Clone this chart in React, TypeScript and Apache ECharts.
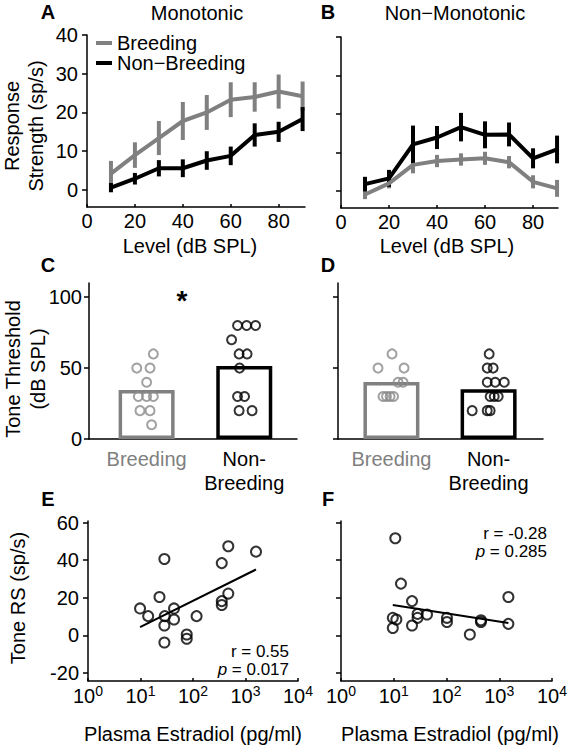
import React, { useEffect, useRef } from 'react';
import * as echarts from 'echarts';

// ---------- data ----------
const levels = [10, 20, 30, 40, 50, 60, 70, 80, 90];
const monoBreedingMean = [4.2, 9, 13.4, 17.8, 20, 23.3, 24, 25.4, 24.2];
const monoBreedingSem = [3.3, 3.3, 4.4, 4.9, 4.5, 4.5, 3.8, 4.4, 3.8];
const monoNonBreedingMean = [0.6, 2.9, 5.6, 5.6, 7.6, 8.8, 14.2, 15, 18.3];
const monoNonBreedingSem = [1.2, 1.5, 2.1, 2.3, 2.4, 2.4, 3, 2.6, 3.1];
const nonMonoBreedingMean = [-0.9, 2, 6.8, 7.8, 8.2, 8.5, 7.5, 2.4, 0.7];
const nonMonoBreedingSem = [1.2, 1.3, 2.2, 1.6, 1.6, 1.7, 1.6, 1.7, 2.2];
const nonMonoNonBreedingMean = [1.8, 3.3, 12.1, 13.9, 16.6, 14.6, 14.7, 8.5, 10.8];
const nonMonoNonBreedingSem = [1.9, 2.2, 4.9, 3, 3.7, 3.5, 3.1, 2.6, 3.6];

const groups = ['Breeding', 'Non-\nBreeding'];
const monoThresholdMean = [34.5, 51.5];
const monoBreedingThr = [60, 50, 50, 40, 30, 30, 30, 20, 20, 10];
const monoBreedingJitter = [0.069, -0.101, 0.035, 0, -0.085, 0, 0.069, -0.068, 0.035, 0.051];
const monoNonBreedingThr = [80, 80, 80, 70, 60, 60, 50, 30, 30, 20, 20];
const monoNonBreedingJitter = [-0.069, 0.024, 0.116, -0.13, -0.053, 0.029, -0.048, -0.069, 0.003, -0.053, 0.08];
const nonMonoThresholdMean = [40.2, 35.1];
const nonMonoBreedingThr = [60, 50, 50, 40, 40, 30, 30, 30, 30];
const nonMonoBreedingJitter = [0.006, -0.138, 0.13, 0.068, 0.12, -0.087, -0.051, -0.014, 0.022];
const nonMonoNonBreedingThr = [60, 50, 50, 40, 40, 40, 30, 30, 30, 20, 20, 20];
const nonMonoNonBreedingJitter = [0.006, -0.014, 0.047, -0.014, 0.068, 0.161, 0.016, 0.058, 0.099, -0.169, -0.014, 0.016];

const estradiolE = [9.8, 14, 23, 28.5, 29, 28.5, 28.5, 43.5, 43.5, 76, 76, 117, 353, 353, 353, 470, 470, 1585];
const toneRsE = [14.3, 10.2, 20.4, 40.6, 10.2, 5.2, -3.8, 14.3, 8.4, 0.4, -1.8, 10.2, 38.4, 18.2, 16.1, 47.4, 22.2, 44.5];
const fitXE = [9.8, 1585];
const fitYE = [4.3, 35.0];
const estradiolF = [10.7, 13.7, 22.2, 9.6, 11.2, 9.6, 22.2, 28.3, 28.3, 42.7, 102, 102, 277, 450, 450, 1490, 1490];
const toneRsF = [51.6, 27.5, 18.2, 9.3, 8.4, 3.9, 5.2, 11.4, 9.3, 11.1, 9.3, 7.1, 0.4, 8.0, 7.1, 20.4, 6.1];
const fitXF = [9.6, 1490];
const fitYF = [16.1, 6.6];
const statsR = [0.55, -0.28];
const statsP = [0.017, 0.285];

const levelTicks = [0, 20, 40, 60, 80];
const rsTicks = [0, 10, 20, 30, 40];
const thrTicks = [0, 50, 100];
const toneTicks = [-20, 0, 20, 40, 60];

// ---------- style ----------
const FONT = "'Liberation Sans', Arial, Helvetica, sans-serif";
const GRAY = '#808080';
const DOT_GRAY = '#8a8a8a';
const BLACK = '#000000';
const AXIS_LINE = { show: true, onZero: false, lineStyle: { color: BLACK, width: 1.5 } };
const LABEL = { fontSize: 20, fontFamily: FONT, color: BLACK };

function errData(mean: number[], sem: number[]) {
  return levels.map((x, i) => [x, mean[i] - sem[i], mean[i] + sem[i]]);
}
function lineData(mean: number[]) {
  return levels.map((x, i) => [x, mean[i]]);
}
function errRender(color: string) {
  return (params: any, api: any) => {
    const x = api.value(0);
    const a = api.coord([x, api.value(1)]);
    const b = api.coord([x, api.value(2)]);
    return {
      type: 'line',
      shape: { x1: a[0], y1: a[1], x2: b[0], y2: b[1] },
      style: { stroke: color, lineWidth: 4 },
    };
  };
}

function levelXAxis(gridIndex: number, max: number) {
  return {
    type: 'value', gridIndex, min: 0, max,
    axisLine: AXIS_LINE,
    axisTick: { show: true, inside: true, length: 3, customValues: levelTicks, lineStyle: { color: BLACK, width: 1.5 } },
    axisLabel: { ...LABEL, margin: 4, customValues: levelTicks },
    splitLine: { show: false },
  };
}
function valueYAxis(gridIndex: number, min: number, max: number, ticks: number[], showLabel: boolean, margin: number) {
  return {
    type: 'value', gridIndex, min, max,
    axisLine: AXIS_LINE,
    axisTick: { show: true, inside: false, length: 5, customValues: ticks, lineStyle: { color: BLACK, width: 1.5 } },
    axisLabel: { ...LABEL, show: showLabel, margin, customValues: ticks },
    splitLine: { show: false },
  };
}
function groupXAxis(gridIndex: number, min: number, max: number) {
  return {
    type: 'value', gridIndex, min, max,
    axisLine: AXIS_LINE,
    axisTick: { show: false },
    axisLabel: {
      ...LABEL, margin: 8, lineHeight: 24, customValues: [1, 2],
      formatter: (v: number) => {
        const name = groups[Math.round(v) - 1] || '';
        return name.split('\n').map((s) => (Math.round(v) === 1 ? `{g|${s}}` : `{k|${s}}`)).join('\n');
      },
      rich: {
        g: { fontSize: 20, fontFamily: FONT, color: GRAY, lineHeight: 24 },
        k: { fontSize: 20, fontFamily: FONT, color: BLACK, lineHeight: 24 },
      },
    },
    splitLine: { show: false },
  };
}
function logXAxis(gridIndex: number) {
  return {
    type: 'log', logBase: 10, gridIndex, min: 1, max: 10000,
    axisLine: AXIS_LINE,
    axisTick: { show: true, inside: true, length: 3, interval: 1, lineStyle: { color: BLACK, width: 1.5 } },
    axisLabel: {
      ...LABEL, margin: 3, interval: 1,
      formatter: (v: number) => `{b|10}{s|${Math.round(Math.log10(v))}}`,
      rich: {
        b: { fontSize: 20, fontFamily: FONT, color: BLACK, lineHeight: 22, verticalAlign: 'bottom' },
        s: { fontSize: 14, fontFamily: FONT, color: BLACK, lineHeight: 14, verticalAlign: 'top' },
      },
    },
    splitLine: { show: false },
  };
}

function dots(xi: number, base: number, values: number[], jitter: number[], color: string, name: string) {
  return {
    type: 'scatter', name, xAxisIndex: xi, yAxisIndex: xi,
    symbol: 'circle', symbolSize: 9,
    itemStyle: { color: 'rgba(255,255,255,0)', borderColor: color, borderWidth: 2 },
    data: values.map((v, i) => [base + jitter[i], v]),
    z: 5,
  };
}

function text(x: number, y: number, t: string, extra: any = {}) {
  return {
    type: 'text', x, y,
    style: { text: t, fontSize: 20, fontFamily: FONT, fill: BLACK, align: 'center', verticalAlign: 'middle', ...extra },
  };
}
function vtext(x: number, y: number, t: string) {
  return { ...text(x, y, t), rotation: Math.PI / 2 };
}
function statText(x: number, yR: number, yP: number, idx: number) {
  return [
    text(x, yR, `r = ${statsR[idx].toFixed(2)}`, { align: 'right', fontSize: 17 }),
    {
      type: 'text', x, y: yP,
      style: {
        text: `{i|p} = ${statsP[idx].toFixed(3)}`, fontSize: 17, fontFamily: FONT, fill: BLACK,
        align: 'right', verticalAlign: 'middle',
        rich: { i: { fontStyle: 'italic', fontSize: 17, fontFamily: FONT, color: BLACK } },
      },
    },
  ];
}

export default function App() {
  const ref = useRef<HTMLDivElement>(null);
  useEffect(() => {
    if (!ref.current) return;
    const chart = echarts.init(ref.current, undefined, { renderer: 'svg' });
    const option: any = {
      animation: false,
      backgroundColor: '#ffffff',
      grid: [
        { left: 87, top: 35, width: 218, height: 172 },
        { left: 341, top: 37, width: 217, height: 171 },
        { left: 89, top: 283, width: 208, height: 156 },
        { left: 338, top: 283, width: 205, height: 156 },
        { left: 88, top: 521, width: 210, height: 160 },
        { left: 341, top: 521, width: 211, height: 160 },
      ],
      xAxis: [
        levelXAxis(0, 91),
        levelXAxis(1, 90.4),
        groupXAxis(2, 0.41, 2.54),
        groupXAxis(3, 0.45, 2.56),
        logXAxis(4),
        logXAxis(5),
      ],
      yAxis: [
        valueYAxis(0, -4.4, 40, rsTicks, true, 9),
        valueYAxis(1, -4.4, 40, rsTicks, false, 9),
        valueYAxis(2, 0, 110, thrTicks, true, 7),
        valueYAxis(3, 0, 110, thrTicks, false, 7),
        valueYAxis(4, -24.3, 60.8, toneTicks, true, 9),
        valueYAxis(5, -24.3, 60.8, toneTicks, false, 9),
      ],
      legend: {
        orient: 'vertical', left: 96, top: 33, padding: 0,
        icon: 'rect', itemWidth: 16, itemHeight: 4, itemGap: 0,
        data: ['Breeding', 'Non\u2212Breeding'],
        textStyle: { fontSize: 20, fontFamily: FONT, color: BLACK, lineHeight: 20 },
        selectedMode: false,
      },
      series: [
        // A
        { type: 'line', name: 'Breeding', xAxisIndex: 0, yAxisIndex: 0, data: lineData(monoBreedingMean), symbol: 'none', lineStyle: { color: GRAY, width: 4 }, itemStyle: { color: GRAY } },
        { type: 'custom', name: 'A Breeding SEM', xAxisIndex: 0, yAxisIndex: 0, data: errData(monoBreedingMean, monoBreedingSem), renderItem: errRender(GRAY), encode: { x: 0, y: [1, 2] } },
        { type: 'line', name: 'Non\u2212Breeding', xAxisIndex: 0, yAxisIndex: 0, data: lineData(monoNonBreedingMean), symbol: 'none', lineStyle: { color: BLACK, width: 4 }, itemStyle: { color: BLACK } },
        { type: 'custom', name: 'A Non-Breeding SEM', xAxisIndex: 0, yAxisIndex: 0, data: errData(monoNonBreedingMean, monoNonBreedingSem), renderItem: errRender(BLACK), encode: { x: 0, y: [1, 2] } },
        // B
        { type: 'line', name: 'Breeding', xAxisIndex: 1, yAxisIndex: 1, data: lineData(nonMonoBreedingMean), symbol: 'none', lineStyle: { color: GRAY, width: 4 }, itemStyle: { color: GRAY } },
        { type: 'custom', name: 'B Breeding SEM', xAxisIndex: 1, yAxisIndex: 1, data: errData(nonMonoBreedingMean, nonMonoBreedingSem), renderItem: errRender(GRAY), encode: { x: 0, y: [1, 2] } },
        { type: 'line', name: 'Non\u2212Breeding', xAxisIndex: 1, yAxisIndex: 1, data: lineData(nonMonoNonBreedingMean), symbol: 'none', lineStyle: { color: BLACK, width: 4 }, itemStyle: { color: BLACK } },
        { type: 'custom', name: 'B Non-Breeding SEM', xAxisIndex: 1, yAxisIndex: 1, data: errData(nonMonoNonBreedingMean, nonMonoNonBreedingSem), renderItem: errRender(BLACK), encode: { x: 0, y: [1, 2] } },
        // C
        {
          type: 'bar', name: 'C threshold', xAxisIndex: 2, yAxisIndex: 2, barWidth: 56,
          itemStyle: { color: 'rgba(255,255,255,0)', borderWidth: 3.5 },
          data: monoThresholdMean.map((v, i) => ({ value: [i + 1, v], itemStyle: { borderColor: i === 0 ? GRAY : BLACK } })),
        },
        dots(2, 1, monoBreedingThr, monoBreedingJitter, DOT_GRAY, 'C Breeding cells'),
        dots(2, 2, monoNonBreedingThr, monoNonBreedingJitter, BLACK, 'C Non-Breeding cells'),
        // D
        {
          type: 'bar', name: 'D threshold', xAxisIndex: 3, yAxisIndex: 3, barWidth: 56,
          itemStyle: { color: 'rgba(255,255,255,0)', borderWidth: 3.5 },
          data: nonMonoThresholdMean.map((v, i) => ({ value: [i + 1, v], itemStyle: { borderColor: i === 0 ? GRAY : BLACK } })),
        },
        dots(3, 1, nonMonoBreedingThr, nonMonoBreedingJitter, DOT_GRAY, 'D Breeding cells'),
        dots(3, 2, nonMonoNonBreedingThr, nonMonoNonBreedingJitter, BLACK, 'D Non-Breeding cells'),
        // E
        {
          type: 'scatter', name: 'E cells', xAxisIndex: 4, yAxisIndex: 4, symbolSize: 10,
          itemStyle: { color: 'rgba(255,255,255,0)', borderColor: BLACK, borderWidth: 2 },
          data: estradiolE.map((x, i) => [x, toneRsE[i]]),
        },
        { type: 'line', name: 'E fit', xAxisIndex: 4, yAxisIndex: 4, symbol: 'none', lineStyle: { color: BLACK, width: 2 }, data: fitXE.map((x, i) => [x, fitYE[i]]) },
        // F
        {
          type: 'scatter', name: 'F cells', xAxisIndex: 5, yAxisIndex: 5, symbolSize: 10,
          itemStyle: { color: 'rgba(255,255,255,0)', borderColor: BLACK, borderWidth: 2 },
          data: estradiolF.map((x, i) => [x, toneRsF[i]]),
        },
        { type: 'line', name: 'F fit', xAxisIndex: 5, yAxisIndex: 5, symbol: 'none', lineStyle: { color: BLACK, width: 2 }, data: fitXF.map((x, i) => [x, fitYF[i]]) },
      ],
      graphic: [
        text(48, 12, 'A', { fontWeight: 'bold' }),
        text(328, 12, 'B', { fontWeight: 'bold' }),
        text(48, 265, 'C', { fontWeight: 'bold' }),
        text(328, 265, 'D', { fontWeight: 'bold' }),
        text(48, 499, 'E', { fontWeight: 'bold' }),
        text(328, 499, 'F', { fontWeight: 'bold' }),
        text(197, 13, 'Monotonic'),
        text(455, 13, 'Non\u2212Monotonic'),
        text(190, 246, 'Level (dB SPL)'),
        text(447, 246, 'Level (dB SPL)'),
        text(193, 734, 'Plasma Estradiol (pg/ml)'),
        text(450, 734, 'Plasma Estradiol (pg/ml)'),
        vtext(12, 126, 'Response'),
        vtext(36, 126, 'Strength (sp/s)'),
        vtext(13, 369, 'Tone Threshold'),
        vtext(38, 369, '(dB SPL)'),
        vtext(18, 598, 'Tone RS (sp/s)'),
        text(182, 300, '*', { fontSize: 28, fontWeight: 'bold' }),
        ...statText(289, 651, 669, 0),
        ...statText(547, 533, 551, 1),
      ],
    };
    chart.setOption(option);
    return () => chart.dispose();
  }, []);
  return (
    <div
      ref={ref}
      style={{ position: 'absolute', left: 0, top: 0, width: 573, height: 750, background: '#fff' }}
    />
  );
}
